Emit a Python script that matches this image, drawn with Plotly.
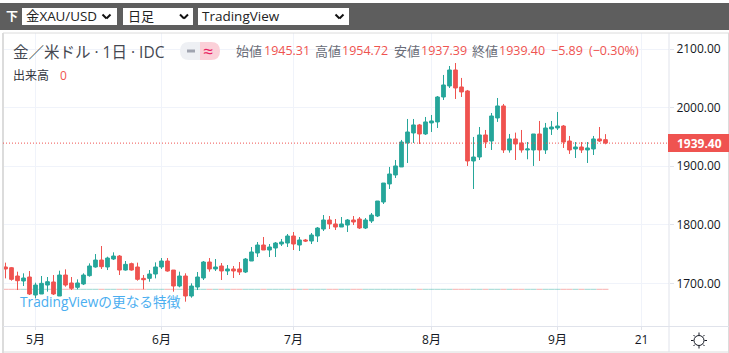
import plotly.graph_objects as go

opens = [1728.0,1726.8,1712.6,1704.1,1710.9,1680.2,1681.9,1697.2,1702.4,1678.5,
1714.3,1700.7,1693.3,1699.0,1713.2,1728.0,1739.9,1728.0,1741.6,1746.7,
1722.8,1733.7,1728.0,1708.6,1708.6,1716.0,1728.0,1738.2,1722.8,1695.5,
1712.6,1678.5,1693.8,1709.2,1736.5,1724.6,1729.7,1721.2,1724.6,1724.6,
1719.4,1738.2,1751.9,1765.5,1757.0,1760.4,1767.2,1768.9,1780.9,1765.5,
1774.1,1772.3,1780.9,1792.8,1808.2,1801.4,1796.2,1799.6,1808.2,1809.9,
1794.5,1806.5,1815.0,1838.9,1869.7,1885.0,1898.7,1939.6,1956.7,1970.4,
1955.0,1973.8,1975.5,2018.1,2036.9,2064.2,2035.2,2028.4,1908.9,1915.7,
1953.3,1943.0,1982.3,2002.8,1927.7,1946.5,1939.6,1927.7,1927.7,1955.0,
1927.7,1963.5,1965.2,1968.6,1943.0,1929.4,1932.8,1927.7,1929.4,1946.5,
1945.31]
closes = [1724.6,1706.9,1704.6,1709.2,1681.9,1697.2,1700.1,1702.9,1681.9,1714.3,
1697.2,1691.6,1700.7,1714.3,1729.7,1739.9,1728.5,1743.3,1746.7,1722.8,
1732.5,1722.8,1706.9,1706.3,1716.0,1728.0,1738.2,1721.1,1695.5,1712.6,
1678.5,1695.5,1710.9,1736.5,1724.6,1728.0,1721.2,1724.6,1721.2,1719.4,
1741.6,1753.6,1765.5,1757.0,1762.1,1768.9,1770.6,1780.9,1767.2,1774.1,
1772.3,1782.6,1794.5,1808.2,1801.4,1796.2,1801.4,1808.2,1804.8,1794.5,
1808.2,1816.7,1840.6,1871.3,1886.7,1900.4,1941.3,1958.4,1970.4,1955.0,
1975.5,1977.2,2018.1,2038.6,2064.2,2033.5,2026.7,1908.9,1915.7,1953.3,
1941.3,1985.7,2002.8,1927.7,1946.5,1937.9,1927.7,1929.4,1955.0,1927.7,
1965.2,1966.9,1968.6,1941.3,1927.7,1932.8,1927.7,1931.1,1946.5,1943.0,
1939.40]
highs = [1735.4,1728.0,1720.0,1717.2,1721.1,1701.2,1712.6,1710.9,1714.3,1721.7,
1724.0,1710.9,1706.9,1717.2,1734.2,1750.1,1763.8,1745.6,1753.0,1748.4,
1738.2,1735.4,1735.4,1714.3,1722.8,1735.9,1743.3,1743.3,1722.8,1720.0,
1717.2,1700.1,1719.4,1738.2,1743.3,1741.6,1734.8,1731.4,1729.7,1736.5,
1743.3,1762.1,1770.6,1779.2,1767.2,1770.6,1775.8,1784.3,1787.7,1779.2,
1775.8,1786.0,1796.2,1816.7,1815.0,1809.9,1813.3,1809.9,1815.0,1813.3,
1811.6,1820.1,1840.6,1871.3,1898.7,1910.6,1944.8,1980.6,1980.6,1972.1,
1984.0,1987.4,2019.8,2055.7,2071.0,2076.1,2050.6,2030.1,1949.9,1966.9,
1961.8,1990.8,2016.4,2006.2,1955.0,1957.3,1961.8,1941.3,1955.0,1977.2,
1973.8,1977.2,1992.5,1970.3,1951.6,1941.3,1941.3,1941.3,1951.6,1966.9,
1954.72]
lows = [1708.6,1704.6,1688.7,1695.5,1680.2,1674.5,1681.9,1685.9,1680.2,1678.5,
1694.4,1688.7,1689.9,1697.2,1711.5,1726.8,1724.6,1722.8,1739.9,1714.3,
1721.7,1721.7,1704.6,1689.9,1702.9,1708.6,1724.6,1720.0,1685.9,1693.3,
1668.8,1675.6,1688.7,1705.8,1720.0,1721.1,1705.8,1714.3,1709.2,1714.3,
1717.7,1738.2,1745.0,1757.0,1745.0,1745.0,1763.8,1762.1,1757.0,1755.3,
1770.6,1767.2,1770.6,1789.4,1792.8,1791.1,1796.2,1787.7,1799.6,1792.8,
1792.8,1803.1,1813.3,1835.5,1861.1,1879.9,1898.7,1905.5,1939.6,1937.9,
1953.3,1958.4,1965.2,2013.0,2033.5,2014.7,2018.1,1900.4,1861.1,1910.6,
1931.1,1927.7,1975.5,1922.6,1923.1,1910.6,1923.1,1911.8,1900.4,1908.9,
1920.9,1953.3,1961.8,1931.1,1920.9,1914.0,1922.6,1905.5,1919.1,1941.3,
1937.39]
volumes = [0] * len(closes)
bar_index = list(range(len(closes)))
month_ticks = [5, 26, 48, 71, 92, 106]
month_labels = ["5月", "6月", "7月", "8月", "9月", "21"]
price_ticks = [1700, 1800, 1900, 2000, 2100]
price_labels = ["1700.00", "1800.00", "1900.00", "2000.00", "2100.00"]
last_price = 1939.40

UP, DOWN = "#26a69a", "#ef5350"
UP_SOFT, DOWN_SOFT = "rgba(38,166,154,0.45)", "rgba(239,83,80,0.45)"
FONT = "Open Sans, Noto Sans CJK JP, sans-serif"
GRID = "#f0f3fa"
EDGE = "#e0e3eb"
L, R, T, B = 3, 669, 33, 326


def px(x):
    return (x - L) / (R - L)


def py(y):
    return (B - y) / (B - T)


fig = go.Figure()
fig.add_trace(go.Candlestick(
    x=bar_index, open=opens, high=highs, low=lows, close=closes,
    whiskerwidth=0,
    increasing=dict(line=dict(color=UP, width=1), fillcolor=UP),
    decreasing=dict(line=dict(color=DOWN, width=1), fillcolor=DOWN),
    showlegend=False, hoverinfo="skip",
))
fig.add_trace(go.Scatter(
    x=bar_index, y=volumes, yaxis="y2", mode="markers",
    marker=dict(symbol="line-ew", size=4.2,
                line=dict(width=1, color=[UP_SOFT if c >= o else DOWN_SOFT for o, c in zip(opens, closes)])),
    showlegend=False, hoverinfo="skip",
))

shapes = []


def rect(x0, y0, x1, y1, fill, line=None, layer="above"):
    shapes.append(dict(type="rect", xref="paper", yref="paper", x0=px(x0), x1=px(x1), y0=py(y0), y1=py(y1),
                       fillcolor=fill, line=dict(width=1 if line else 0, color=line or fill), layer=layer))


def seg(x0, y0, x1, y1, color, width=1):
    shapes.append(dict(type="line", xref="paper", yref="paper", x0=px(x0), x1=px(x1), y0=py(y0), y1=py(y1),
                       line=dict(color=color, width=width), layer="above"))


def half_pill(x0, x1, y0, y1, fill, side):
    # rounded on one side only; corners are quadratic curves
    r = (y1 - y0) / 2
    if side == "left":
        d = (f"M {px(x1)} {py(y0)} L {px(x0 + r)} {py(y0)} Q {px(x0)} {py(y0)} {px(x0)} {py(y0 + r)} "
             f"Q {px(x0)} {py(y1)} {px(x0 + r)} {py(y1)} L {px(x1)} {py(y1)} Z")
    else:
        d = (f"M {px(x0)} {py(y0)} L {px(x1 - r)} {py(y0)} Q {px(x1)} {py(y0)} {px(x1)} {py(y0 + r)} "
             f"Q {px(x1)} {py(y1)} {px(x1 - r)} {py(y1)} L {px(x0)} {py(y1)} Z")
    shapes.append(dict(type="path", xref="paper", yref="paper", path=d, fillcolor=fill, line=dict(width=0), layer="above"))


rect(0, 3, 729, 30, "#5e5e5e")
rect(22, 8, 117, 25, "#ffffff")
rect(123, 8, 193, 25, "#ffffff")
rect(198, 8, 349, 25, "#ffffff")
for cx in (106.5, 184, 339.5):
    seg(cx - 4, 14.5, cx, 18.5, "#111111", 2)
    seg(cx, 18.5, cx + 4, 14.5, "#111111", 2)

seg(3, 33, 729, 33, "#dcdcdc", 1)
seg(3, 33, 3, 353, "#dcdcdc", 2)
seg(3, 352, 729, 352, "#dcdcdc", 1)
seg(728.5, 33, 728.5, 353, "#dcdcdc", 1)
seg(3, 326.5, 729, 326.5, EDGE, 1)
seg(669, 33, 669, 352, EDGE, 1)

half_pill(180, 200, 42, 60, "#eef0f4", "left")
half_pill(200, 220, 42, 60, "#fbd0d8", "right")
seg(187, 51, 195, 51, "#a0a4b0", 3)

shapes.append(dict(type="line", xref="paper", yref="y", x0=0, x1=1, y0=last_price, y1=last_price,
                   line=dict(color=DOWN, width=1, dash="1px,2px"), layer="above"))
rect(668, 134, 729, 152, DOWN)

shapes.append(dict(type="circle", xref="paper", yref="paper", x0=px(694), x1=px(704), y0=py(335.5), y1=py(345.5),
                   line=dict(color="#131722", width=1), fillcolor="rgba(0,0,0,0)", layer="above"))
for x0, y0, x1, y1 in [(699, 332.5, 699, 335), (699, 346, 699, 348.5), (691, 340.5, 693.5, 340.5), (704.5, 340.5, 707, 340.5),
                       (693.5, 335, 695, 336.5), (703, 344.5, 704.5, 346), (693.5, 346, 695, 344.5), (703, 336.5, 704.5, 335)]:
    seg(x0, y0, x1, y1, "#131722", 1)


def label(x, y, text, size=13, color="#131722", anchor="left"):
    return dict(xref="paper", yref="paper", x=px(x), y=py(y), text=text, showarrow=False,
                xanchor=anchor, yanchor="middle", font=dict(family=FONT, size=size, color=color),
                borderpad=0, borderwidth=0)


GRAY, RED = "#6a6d78", "#ef5350"
annotations = [
    label(12, 16.5, "<b>下</b>", 12, "#ffffff", "center"),
    label(26, 16.5, "金XAU/USD", 13.4, "#222222"),
    label(128, 16.5, "日足", 13, "#222222"),
    label(202, 16.5, "TradingView", 13.5, "#222222"),
    label(13, 52, "金／米ドル · 1日 · IDC", 15.5, "#444750"),
    label(208, 50.5, "≈", 18, "#e91e63", "center"),
    label(13, 76, "出来高", 12, "#333640"),
    label(60, 76, "0", 12, RED),
    label(236, 50.5, "始値", 13, GRAY),
    label(264, 50.5, "1945.31", 12.5, RED),
    label(315, 50.5, "高値", 13, GRAY),
    label(342, 50.5, "1954.72", 12.5, RED),
    label(394, 50.5, "安値", 13, GRAY),
    label(421, 50.5, "1937.39", 12.5, RED),
    label(472, 50.5, "終値", 13, GRAY),
    label(499, 50.5, "1939.40", 12.5, RED),
    label(551, 50.5, "−5.89", 12.5, RED),
    label(589, 50.5, "(−0.30%)", 12.5, RED),
    label(20, 301, "TradingViewの更なる特徴", 13.7, "#4aaef0"),
    label(699, 143.5, "<b>1939.40</b>", 12, "#ffffff", "center"),
]

fig.update_layout(
    width=729, height=353, autosize=False,
    margin=dict(l=L, r=729 - R, t=T, b=353 - B, pad=0),
    paper_bgcolor="#ffffff", plot_bgcolor="#ffffff",
    font=dict(family=FONT, size=12, color="#131722"),
    shapes=shapes, annotations=annotations, showlegend=False,
    boxgap=0.12,
    xaxis=dict(range=[-0.417, 110.583], rangeslider=dict(visible=False), tickmode="array",
               tickvals=month_ticks, ticktext=month_labels, showgrid=True, gridcolor=GRID, gridwidth=1,
               ticks="outside", ticklen=3, tickcolor=EDGE, zeroline=False, showline=False,
               tickfont=dict(family=FONT, size=12, color="#131722"), fixedrange=True),
    yaxis=dict(range=[1627.3, 2127.3], side="right", tickmode="array", tickvals=price_ticks, ticktext=price_labels,
               showgrid=True, gridcolor=GRID, gridwidth=1, ticks="outside", ticklen=4, tickcolor=EDGE,
               zeroline=False, showline=False, tickfont=dict(family=FONT, size=12, color="#131722"), fixedrange=True),
    yaxis2=dict(range=[-36.7, 256.3], overlaying="y", visible=False, fixedrange=True),
)

fig.write_html("out.html", config=dict(displayModeBar=False),
               post_script="document.body.style.margin='0';document.body.style.overflow='hidden';")
